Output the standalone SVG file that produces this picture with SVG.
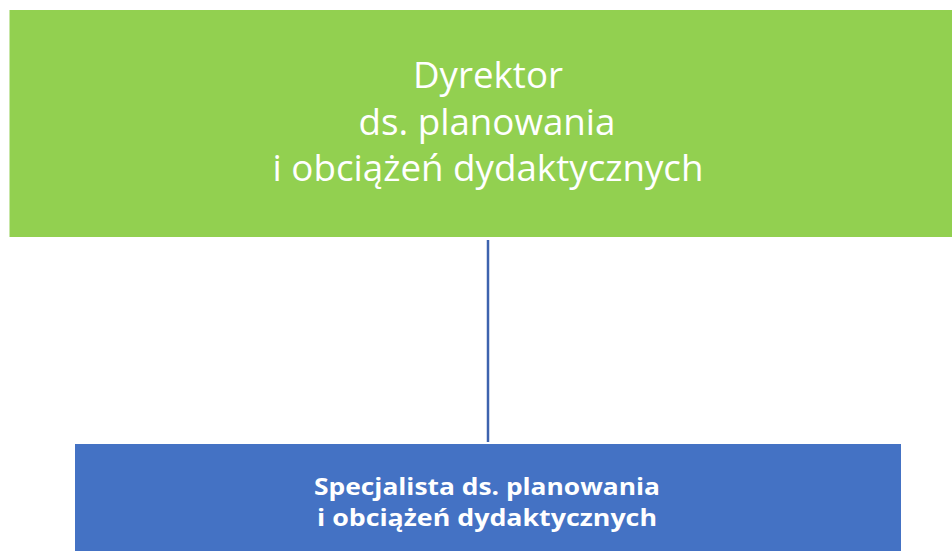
<svg xmlns="http://www.w3.org/2000/svg" width="952" height="551" viewBox="0 0 952 551">
<style>
.top{font-family:"Open Sans","Noto Sans",sans-serif;font-size:36px;fill:#fff;text-anchor:middle}
.bot{font-family:"Open Sans","Noto Sans",sans-serif;font-size:24px;font-weight:bold;fill:#fff;text-anchor:middle}
</style>
<rect width="952" height="551" fill="#fff"/>
<g id="connectors">
<line x1="488" y1="240" x2="488" y2="442" stroke="#3D63AE" stroke-width="2.5"/>
</g>
<g id="dyrektor">
<rect x="9.5" y="10" width="960" height="227" fill="#92D050"/>
<text class="top" x="488" y="88" textLength="150" lengthAdjust="spacingAndGlyphs">Dyrektor</text>
<text class="top" x="487" y="135" textLength="257" lengthAdjust="spacingAndGlyphs">ds. planowania</text>
<text class="top" x="488" y="181" textLength="431" lengthAdjust="spacingAndGlyphs">i obciążeń dydaktycznych</text>
</g>
<g id="specjalista">
<rect x="75" y="444" width="826" height="120" fill="#4472C4"/>
<text class="bot" x="487" y="495" textLength="346" lengthAdjust="spacingAndGlyphs">Specjalista ds. planowania</text>
<text class="bot" x="487" y="526" textLength="340" lengthAdjust="spacingAndGlyphs">i obciążeń dydaktycznych</text>
</g>
</svg>
